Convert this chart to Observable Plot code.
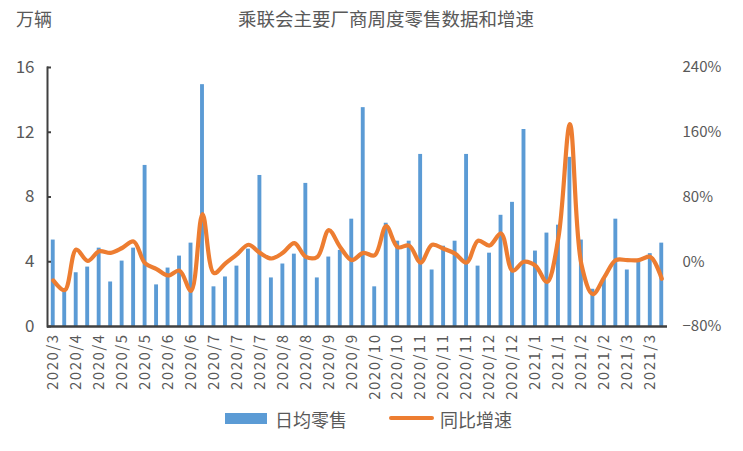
<!DOCTYPE html>
<html>
<head>
<meta charset="utf-8">
<script src="https://cdn.jsdelivr.net/npm/d3@7"></script>
<script src="https://cdn.jsdelivr.net/npm/@observablehq/plot@0.6"></script>
<style>
  body { margin: 0; background: #fff; }
  #wrap { position: relative; width: 743px; height: 451px; font-family: "Noto Sans CJK SC", sans-serif; color: #595959; }
  .abs { position: absolute; white-space: nowrap; }
  #chart { position: absolute; left: 0; top: 40px; }
  #chart g[aria-label="x-axis tick label"] text { letter-spacing: 1.5px; }
</style>
</head>
<body>
<div id="wrap">
  <div class="abs" id="unit" style="left:16px; top:5px; font-size:18px;"></div>
  <div class="abs" id="title" style="left:238px; top:5px; font-size:18.5px;"></div>
  <div id="chart"></div>
  <div class="abs" style="left:225px; top:413px; width:42px; height:11px; background:#5B9BD5;"></div>
  <div class="abs" id="leg1" style="left:275px; top:406px; font-size:18px;"></div>
  <div class="abs" style="left:389px; top:416px; width:45px; height:4px; background:#ED7D31; border-radius:2px;"></div>
  <div class="abs" id="leg2" style="left:440px; top:406px; font-size:18px;"></div>
</div>
<script>
// ---- data ----
const titleText = "乘联会主要厂商周度零售数据和增速";
const unitText = "万辆";
const seriesNames = ["日均零售", "同比增速"];
// weekly tick labels (shown on every other week)
const tickLabels = ["2020/3","2020/4","2020/4","2020/5","2020/5","2020/6","2020/6","2020/7","2020/7","2020/7",
  "2020/8","2020/8","2020/9","2020/9","2020/10","2020/10","2020/11","2020/11","2020/11","2020/12",
  "2020/12","2021/1","2021/1","2021/2","2021/2","2021/3","2021/3"];
// daily average retail (万辆), one per week
const sales = [5.34,2.2,3.32,3.67,4.84,2.75,4.04,4.84,9.95,2.57,
  3.61,4.35,5.15,14.94,2.45,3.06,3.73,4.78,9.33,3.0,
  3.86,4.47,8.84,3.0,4.29,4.7,6.63,13.52,2.45,6.38,
  5.27,5.27,10.63,3.49,4.96,5.27,10.63,3.73,4.53,6.87,
  7.67,12.17,4.66,5.77,6.26,10.45,5.34,2.3,3.0,6.63,
  3.49,4.04,4.5,5.15];
// year-on-year growth (%)
const growth = [-23,-35,15,1,13,11,17,25,-2,-9,
  -17,-11,-36,59,-14,-2,9,21,11,4,
  11,23,6,6,39,18,2,11,8,44,
  18,20,-1,21,16,10,-1,26,20,35,
  -11,0,-5,-25,30,170,-3,-40,-19,2,
  2,2,6,-21];
const leftTicks = [0,4,8,12,16];
const rightTicks = [-80,0,80,160,240];

document.getElementById("unit").textContent = unitText;
document.getElementById("title").textContent = titleText;
document.getElementById("leg1").textContent = seriesNames[0];
document.getElementById("leg2").textContent = seriesNames[1];

const weeks = d3.range(sales.length);
// map growth % onto the left (万辆) scale: -80% -> 0, 240% -> 16
const toLeft = g => (g + 80) / 20;
const labelWeeks = weeks.filter(i => i % 2 === 0);

const chart = Plot.plot({
  width: 743,
  height: 360,
  marginTop: 27,
  marginBottom: 74,
  marginLeft: 47,
  marginRight: 76,
  style: {fontFamily: "'Noto Sans CJK SC', sans-serif", fontSize: "17px", color: "#595959", background: "transparent"},
  x: {type: "band", domain: weeks, padding: 0, round: false},
  y: {domain: [0, 16]},
  marks: [
    Plot.barY(weeks, {x: d => d, y: i => sales[i], fill: "#5B9BD5", insetLeft: 3.8, insetRight: 3.8}),
    Plot.line(weeks, {x: d => d, y: i => toLeft(growth[i]), stroke: "#ED7D31", strokeWidth: 4.2, curve: "catmull-rom"}),
    Plot.frame({anchor: "left", stroke: "#404040", strokeWidth: 2}),
    Plot.ruleY([0], {stroke: "#404040", strokeWidth: 2.5}),
    Plot.axisY(leftTicks, {anchor: "left", tickSize: -4, tickPadding: 17, stroke: "#404040", strokeWidth: 2, fill: "#595959", fontSize: 17, label: null}),
    Plot.axisY(rightTicks.map(toLeft), {anchor: "right", tickSize: 0, tickPadding: 15, fill: "#595959", fontSize: 15,
      tickFormat: d => { const v = Math.round(d * 20 - 80); return (v < 0 ? "\u2212" + (-v) : v) + "%"; }, label: null}),
    Plot.axisX(labelWeeks, {tickSize: 0, tickPadding: 7, tickRotate: -90, fill: "#595959", fontSize: 15,
      tickFormat: i => tickLabels[i / 2], label: null})
  ]
});
document.getElementById("chart").appendChild(chart);
</script>
</body>
</html>
